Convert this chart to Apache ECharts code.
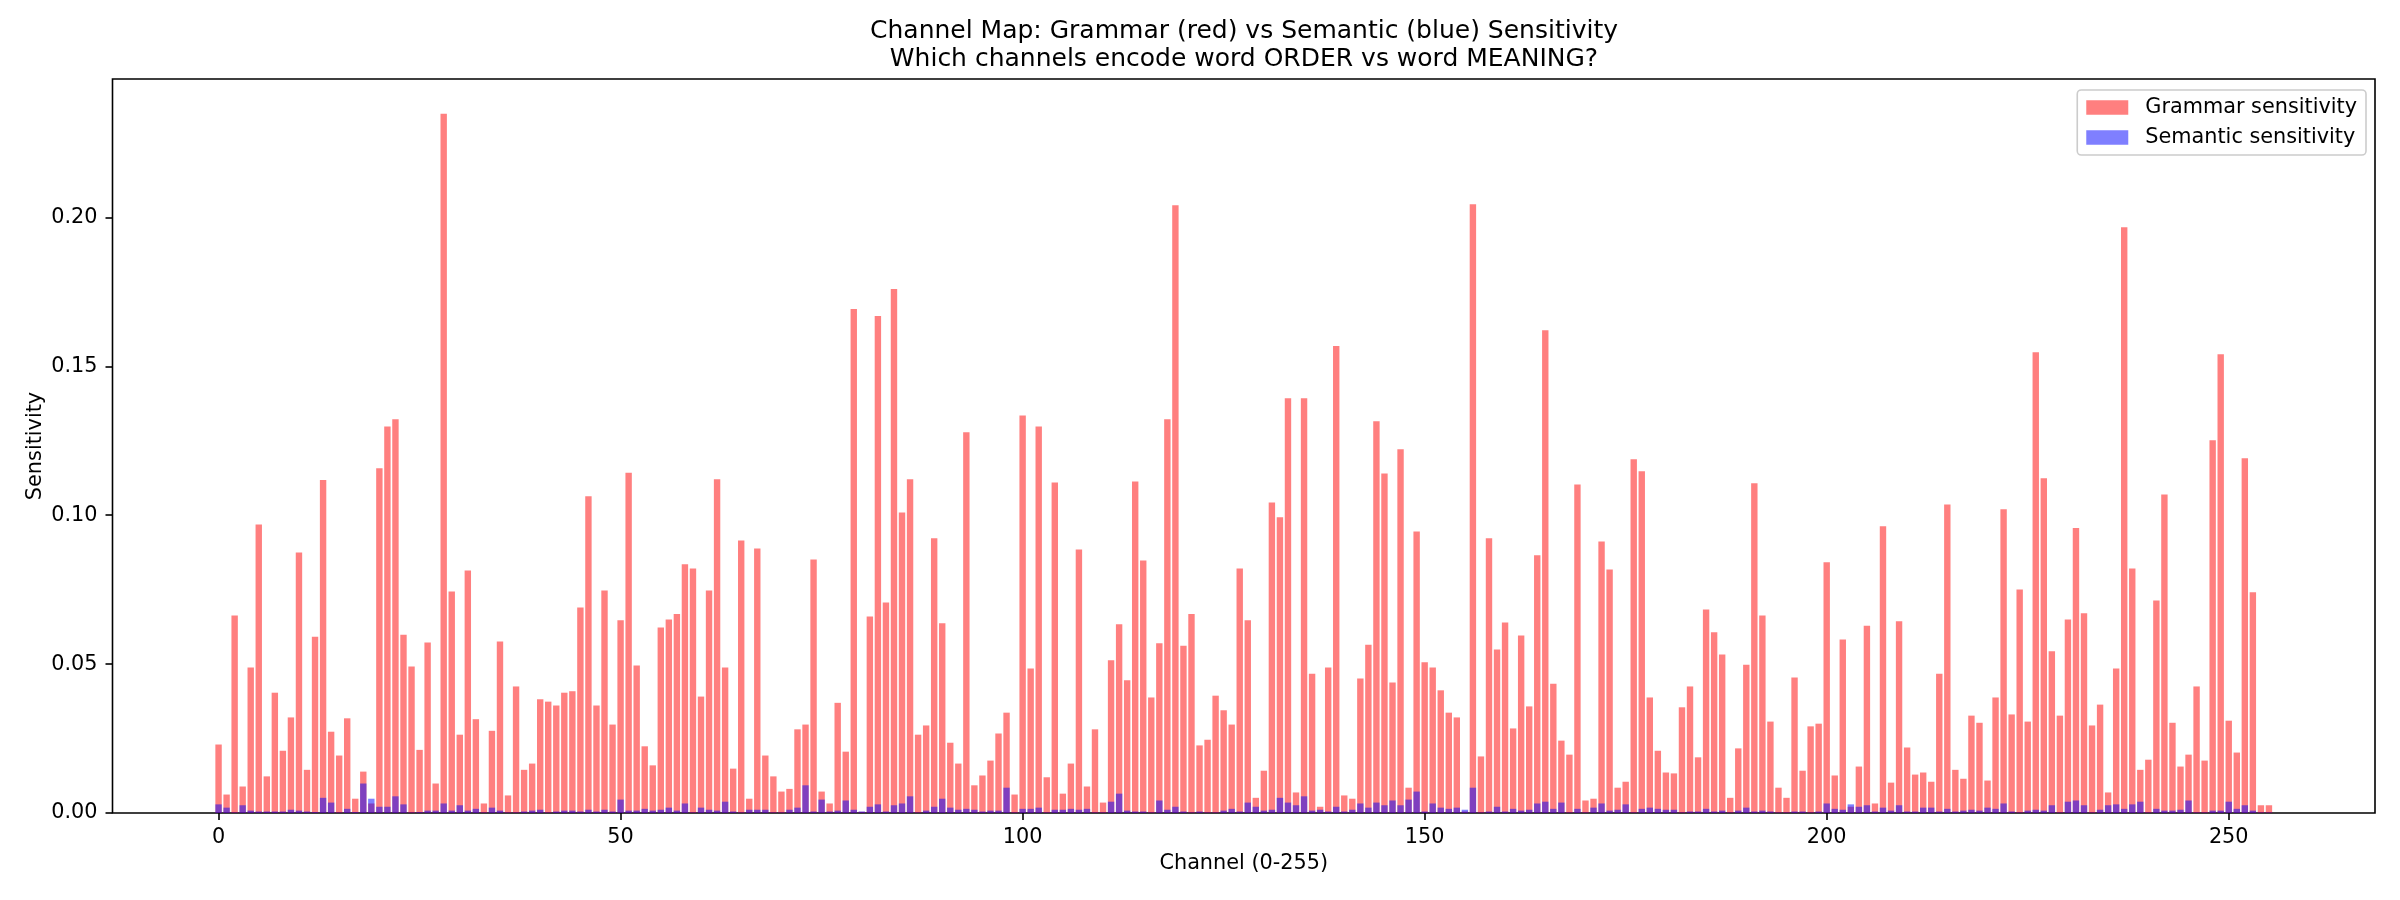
<!DOCTYPE html>
<html lang="en">

<head>
  <meta charset="UTF-8">
  <title>Channel Map</title>
  <script src="https://cdn.jsdelivr.net/npm/echarts@6/dist/echarts.min.js"></script>
  <style>
    html, body { margin: 0; padding: 0; background: #fff; }
    #chart { width: 2400px; height: 900px; }
  </style>
</head>

<body>
  <div id="chart"></div>
  <script>
    // grammar sensitivity per channel (red bars), channel 0..255
    var grammar = [
      0.0230, 0.0062, 0.0663, 0.0089, 0.0489, 0.0969, 0.0123, 0.0404, 0.0209, 0.0321,
      0.0875, 0.0145, 0.0592, 0.1118, 0.0273, 0.0193, 0.0318, 0.0048, 0.0139, 0.0032,
      0.1158, 0.1298, 0.1322, 0.0599, 0.0492, 0.0212, 0.0573, 0.0099, 0.2348, 0.0744,
      0.0263, 0.0814, 0.0315, 0.0032, 0.0276, 0.0576, 0.0059, 0.0425, 0.0145, 0.0166,
      0.0382, 0.0374, 0.0361, 0.0404, 0.0409, 0.0690, 0.1064, 0.0361, 0.0747, 0.0297,
      0.0647, 0.1143, 0.0495, 0.0224, 0.0160, 0.0623, 0.0650, 0.0668, 0.0835, 0.0821,
      0.0391, 0.0747, 0.1121, 0.0489, 0.0149, 0.0915, 0.0048, 0.0888, 0.0193, 0.0123,
      0.0072, 0.0081, 0.0281, 0.0297, 0.0851, 0.0072, 0.0032, 0.0370, 0.0206, 0.1693,
      0.0004, 0.0660, 0.1669, 0.0707, 0.1760, 0.1009, 0.1121, 0.0263, 0.0294, 0.0923,
      0.0637, 0.0236, 0.0166, 0.1279, 0.0093, 0.0126, 0.0176, 0.0267, 0.0337, 0.0062,
      0.1335, 0.0485, 0.1298, 0.0120, 0.1110, 0.0065, 0.0166, 0.0885, 0.0089, 0.0281,
      0.0035, 0.0513, 0.0634, 0.0446, 0.1113, 0.0848, 0.0388, 0.0570, 0.1322, 0.2041,
      0.0562, 0.0668, 0.0227, 0.0246, 0.0394, 0.0345, 0.0297, 0.0821, 0.0647, 0.0051,
      0.0142, 0.1043, 0.0993, 0.1393, 0.0069, 0.1393, 0.0468, 0.0021, 0.0489, 0.1568,
      0.0059, 0.0048, 0.0452, 0.0565, 0.1316, 0.1140, 0.0438, 0.1222, 0.0085, 0.0945,
      0.0506, 0.0489, 0.0412, 0.0337, 0.0321, 0.0005, 0.2044, 0.0190, 0.0923, 0.0549,
      0.0640, 0.0284, 0.0596, 0.0358, 0.0866, 0.1621, 0.0434, 0.0243, 0.0196, 0.1103,
      0.0042, 0.0048, 0.0912, 0.0818, 0.0085, 0.0105, 0.1188, 0.1148, 0.0388, 0.0209,
      0.0136, 0.0133, 0.0355, 0.0425, 0.0187, 0.0683, 0.0607, 0.0532, 0.0051, 0.0217,
      0.0498, 0.1107, 0.0663, 0.0307, 0.0085, 0.0051, 0.0455, 0.0142, 0.0291, 0.0300,
      0.0842, 0.0126, 0.0583, 0.0021, 0.0156, 0.0629, 0.0032, 0.0963, 0.0102, 0.0644,
      0.0220, 0.0129, 0.0136, 0.0105, 0.0468, 0.1036, 0.0145, 0.0115, 0.0327, 0.0303,
      0.0109, 0.0388, 0.1020, 0.0331, 0.0751, 0.0307, 0.1547, 0.1124, 0.0543, 0.0327,
      0.0650, 0.0957, 0.0671, 0.0294, 0.0364, 0.0069, 0.0485, 0.1967, 0.0821, 0.0145,
      0.0179, 0.0714, 0.1070, 0.0303, 0.0156, 0.0196, 0.0425, 0.0176, 0.1252, 0.1541,
      0.0310, 0.0203, 0.1191, 0.0741, 0.0026, 0.0026
    ]
    // semantic sensitivity per channel (blue bars)
    var semantic = [
      0.0029, 0.0018, 0.0002, 0.0026, 0.0008, 0.0005, 0.0005, 0.0005, 0.0005, 0.0011,
      0.0008, 0.0005, 0.0003, 0.0051, 0.0035, 0.0002, 0.0014, 0.0003, 0.0099, 0.0048,
      0.0021, 0.0021, 0.0056, 0.0029, 0.0002, 0.0003, 0.0008, 0.0008, 0.0032, 0.0008,
      0.0026, 0.0008, 0.0014, 0.0002, 0.0018, 0.0008, 0.0002, 0.0002, 0.0005, 0.0008,
      0.0011, 0.0002, 0.0005, 0.0008, 0.0008, 0.0005, 0.0011, 0.0005, 0.0011, 0.0005,
      0.0045, 0.0008, 0.0008, 0.0014, 0.0008, 0.0011, 0.0018, 0.0008, 0.0032, 0.0002,
      0.0018, 0.0011, 0.0008, 0.0038, 0.0005, 0.0002, 0.0011, 0.0011, 0.0011, 0.0002,
      0.0002, 0.0011, 0.0018, 0.0093, 0.0005, 0.0045, 0.0005, 0.0008, 0.0042, 0.0011,
      0.0005, 0.0021, 0.0029, 0.0005, 0.0026, 0.0032, 0.0056, 0.0002, 0.0008, 0.0021,
      0.0048, 0.0018, 0.0011, 0.0014, 0.0011, 0.0005, 0.0008, 0.0008, 0.0085, 0.0002,
      0.0014, 0.0014, 0.0018, 0.0002, 0.0011, 0.0011, 0.0014, 0.0011, 0.0014, 0.0002,
      0.0002, 0.0038, 0.0065, 0.0008, 0.0005, 0.0005, 0.0002, 0.0042, 0.0011, 0.0021,
      0.0005, 0.0002, 0.0005, 0.0002, 0.0002, 0.0008, 0.0014, 0.0005, 0.0035, 0.0021,
      0.0008, 0.0011, 0.0051, 0.0035, 0.0026, 0.0056, 0.0008, 0.0011, 0.0005, 0.0021,
      0.0005, 0.0011, 0.0032, 0.0018, 0.0035, 0.0026, 0.0042, 0.0026, 0.0045, 0.0072,
      0.0005, 0.0032, 0.0018, 0.0014, 0.0018, 0.0011, 0.0085, 0.0002, 0.0005, 0.0021,
      0.0005, 0.0014, 0.0008, 0.0011, 0.0032, 0.0038, 0.0014, 0.0035, 0.0002, 0.0014,
      0.0002, 0.0018, 0.0032, 0.0008, 0.0011, 0.0029, 0.0002, 0.0014, 0.0018, 0.0014,
      0.0011, 0.0011, 0.0002, 0.0005, 0.0005, 0.0014, 0.0005, 0.0008, 0.0002, 0.0008,
      0.0018, 0.0005, 0.0008, 0.0005, 0.0002, 0.0002, 0.0005, 0.0005, 0.0002, 0.0005,
      0.0032, 0.0014, 0.0011, 0.0029, 0.0021, 0.0026, 0.0005, 0.0018, 0.0008, 0.0026,
      0.0005, 0.0005, 0.0018, 0.0018, 0.0005, 0.0014, 0.0005, 0.0008, 0.0011, 0.0008,
      0.0018, 0.0014, 0.0032, 0.0005, 0.0002, 0.0008, 0.0011, 0.0008, 0.0026, 0.0002,
      0.0038, 0.0042, 0.0026, 0.0002, 0.0011, 0.0026, 0.0029, 0.0014, 0.0029, 0.0038,
      0.0002, 0.0014, 0.0008, 0.0008, 0.0011, 0.0042, 0.0002, 0.0002, 0.0008, 0.0008,
      0.0038, 0.0014, 0.0026, 0.0008, 0.0002, 0.0002
    ]
    var xTicks = [0, 50, 100, 150, 200, 250]
    var yTicks = [0, 0.05, 0.10, 0.15, 0.20]

    var font = 'DejaVu Sans'
    var chart = echarts.init(document.getElementById('chart'))

    var option = {
      backgroundColor: '#fff',
      animation: false,
      title: {
        text: 'Channel Map: Grammar (red) vs Semantic (blue) Sensitivity\nWhich channels encode word ORDER vs word MEANING?',
        left: 1244,
        top: 18,
        padding: 0,
        textAlign: 'center',
        textStyle: { fontFamily: font, fontSize: 25, fontWeight: 'normal', color: '#000', lineHeight: 27.5 }
      },
      legend: {
        orient: 'vertical',
        right: 34,
        top: 90,
        icon: 'rect',
        itemWidth: 42,
        itemHeight: 14.6,
        itemGap: 9,
        padding: [7, 9, 7, 9],
        borderColor: '#cccccc',
        borderWidth: 1.6,
        borderRadius: 4,
        backgroundColor: 'rgba(255,255,255,0.8)',
        textStyle: { fontFamily: font, fontSize: 20.8, color: '#000', padding: [0, 0, 0, 12] },
        data: ['Grammar sensitivity', 'Semantic sensitivity']
      },
      grid: {
        left: 112.5, right: 25, top: 79, bottom: 87,
        show: true, borderColor: '#000', borderWidth: 1.6, backgroundColor: 'transparent'
      },
      xAxis: {
        type: 'value',
        min: -13.19,
        max: 268.19,
        name: 'Channel (0-255)',
        nameLocation: 'middle',
        nameGap: 39,
        nameTextStyle: { fontFamily: font, fontSize: 20.8, color: '#000' },
        axisLine: { show: false, onZero: false },
        axisTick: { show: true, length: 7, inside: false, customValues: xTicks, lineStyle: { color: '#000', width: 1.6 } },
        axisLabel: { customValues: xTicks, margin: 14, fontFamily: font, fontSize: 20.8, color: '#000' },
        splitLine: { show: false }
      },
      yAxis: {
        type: 'value',
        min: 0,
        max: 0.2465,
        name: 'Sensitivity',
        nameLocation: 'middle',
        nameRotate: 90,
        nameGap: 66,
        nameMoveOverlap: false,
        nameTextStyle: { fontFamily: font, fontSize: 20.8, color: '#000' },
        axisLine: { show: false, onZero: false },
        axisTick: { show: true, length: 7, inside: false, customValues: yTicks, lineStyle: { color: '#000', width: 1.6 } },
        axisLabel: {
          customValues: yTicks, margin: 15, fontFamily: font, fontSize: 20.8, color: '#000',
          formatter: function (v) { return v.toFixed(2) }
        },
        splitLine: { show: false }
      },
      series: [
        {
          name: 'Grammar sensitivity',
          type: 'bar',
          barWidth: 6.4,
          barGap: '-100%',
          itemStyle: { color: 'rgba(255,0,0,0.5)' },
          data: grammar.map(function (v, i) { return [i, v] })
        },
        {
          name: 'Semantic sensitivity',
          type: 'bar',
          barWidth: 6.4,
          barGap: '-100%',
          itemStyle: { color: 'rgba(0,0,255,0.5)' },
          data: semantic.map(function (v, i) { return [i, v] })
        }
      ]
    }
    chart.setOption(option)
  </script>
</body>

</html>
